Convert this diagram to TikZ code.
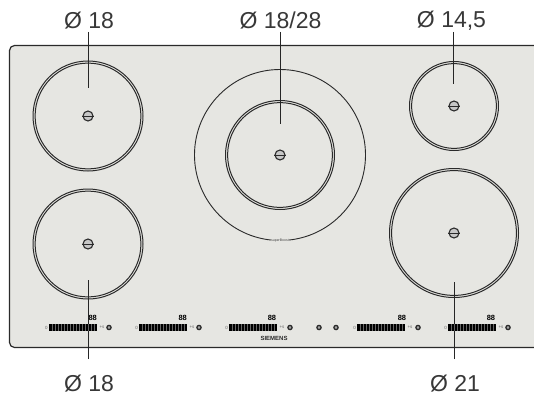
\documentclass[tikz,border=0pt]{standalone}
\usepackage{fontspec}
\setmainfont{Liberation Sans}
\definecolor{panel}{HTML}{E6E6E2}
\definecolor{ink}{HTML}{2A2A2A}
\tikzset{
  x=1pt,y=-1pt,
  lbl/.style={font=\fontsize{23}{25}\selectfont,text=black!78,inner sep=0pt},
  leader/.style={draw=black!85,line width=.9pt},
  ctr/.style={circle,draw=ink,line width=1.1pt,fill=black!22,minimum size=10pt,inner sep=0pt},
  bar/.style={fill=black,minimum width=48pt,minimum height=6.2pt,inner sep=0pt,rectangle},
  knob/.style={circle,draw=ink,line width=1.3pt,fill=black!35,minimum size=4.2pt,inner sep=0pt},
  tiny/.style={font=\fontsize{4.5}{4.5}\selectfont,inner sep=0pt,text=black!60}
}
\newcommand{\zonering}[2]{\draw[ink,line width=1pt] #1 circle (#2);\draw[ink,line width=1pt] #1 circle ({#2-2.1});}
\newcommand{\ctrl}[4]{%
  \node[bar] (#3b) at (#1,327.5) {};
  \foreach \i in {1,...,15}{\draw[black!60,line width=.15pt] ({#1-24+3*\i},324.4) -- ({#1-24+3*\i},330.6);}
  \node[tiny] (#3m) at (#1-26.5,327.5) {0};
  \node[tiny] (#3p) at (#1+29,327.5) {+s};
  \node[knob] (#3k) at (#2,327.5) {};
  \node[font=\fontsize{7.5}{7.5}\selectfont\bfseries,inner sep=0pt,text=black] (#3t) at (#4,317.7) {8\kern-.2pt8};
}
\begin{document}
\begin{tikzpicture}
\useasboundingbox (0,0) rectangle (534,401);
\fill[white] (0,0) rectangle (534,401);
\path[fill=panel,draw=ink,line width=1.2pt,rounded corners=5pt] (9.5,45.5) -- (545,45.5) -- (545,347.5) -- (9.5,347.5) -- cycle;
% zones
\zonering{(88,116)}{55}
\zonering{(88,244)}{55}
\zonering{(280,155)}{54.5}
\zonering{(454,106)}{44.5}
\zonering{(454,233)}{64.5}
\draw[ink,line width=.9pt] (280,155) circle (85.5);
\node[font=\fontsize{3.5}{4}\selectfont,fill=panel,inner sep=.5pt,text=black!75] (brand) at (280,241) {superBoost};
% centres
\foreach \n/\p in {a/{(88,116)},b/{(88,244)},c/{(280,155)},d/{(454,106)},e/{(454,233)}}{
  \node[ctr] (c\n) at \p {};
  \draw[ink,line width=.8pt] (c\n.west) -- (c\n.east);
}
% labels
\node[lbl] (la) at (89,20.5) {Ø 18};
\node[lbl] (lc) at (280.5,20.5) {Ø 18/28};
\node[lbl] (ld) at (451.5,20.5) {Ø 14,5};
\node[lbl] (lb) at (89,384) {Ø 18};
\node[lbl] (le) at (455,384) {Ø 21};
% leaders
\coordinate (ta) at (88.5,32); \coordinate (tc) at (280,32); \coordinate (td) at (453.5,32);
\coordinate (ba) at (88.5,359); \coordinate (be) at (454,359);
\coordinate (ea) at (88.5,88); \coordinate (eb) at (88.5,280);
\coordinate (ec) at (280,124); \coordinate (ed) at (453.5,84); \coordinate (ee) at (454,282);
\draw[leader] (ta) -- (ea);
\draw[leader] (tc) -- (ec);
\draw[leader] (td) -- (ed);
\draw[leader] (ba) -- (eb);
\draw[leader] (be) -- (ee);
% controls
\ctrl{73}{109}{p}{92.7}
\ctrl{163}{199}{q}{182.7}
\ctrl{253}{290}{r}{272}
\ctrl{381}{418}{s}{402}
\ctrl{472}{508}{u}{491}
\node[knob] (k1) at (319,327.5) {};
\node[knob] (k2) at (336,327.5) {};
\node[font=\fontsize{6}{6}\selectfont,inner sep=0pt,text=ink] (sie) at (274,338.3) {\textbf{SIEMENS}};
\end{tikzpicture}
\end{document}
